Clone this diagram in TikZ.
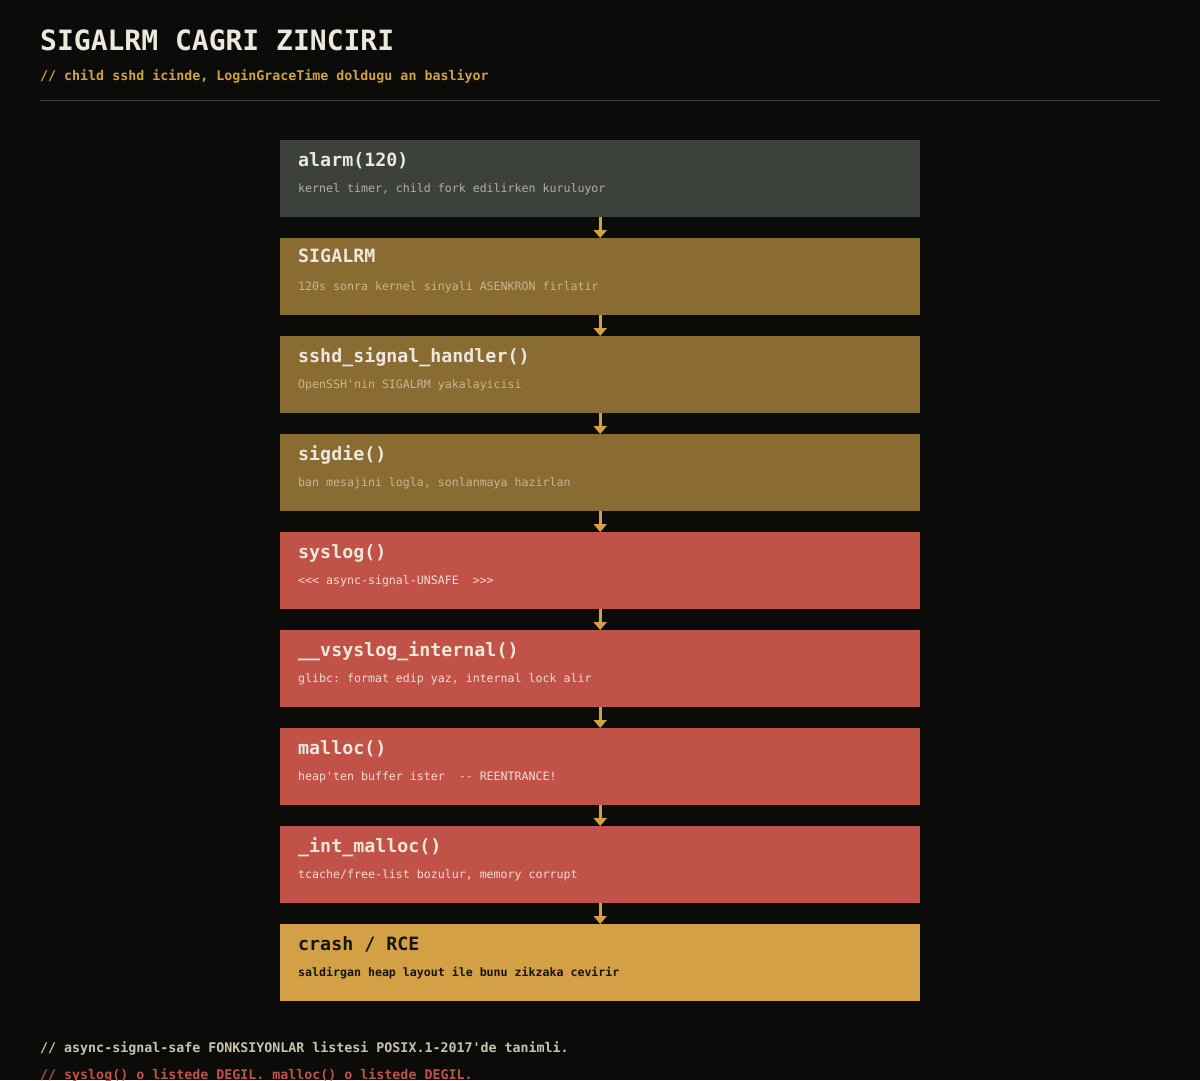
\documentclass[tikz,border=0pt]{standalone}
\usepackage{fontspec}
\setmainfont[Ligatures = TeXOff]{DejaVu Sans Mono}
\usepackage{xcolor}
\usetikzlibrary{arrows.meta}

\definecolor{bg}{HTML}{0B0C0A}
\definecolor{rulegrey}{HTML}{44453F}
\definecolor{ink}{HTML}{ECE8DC}
\definecolor{amber}{HTML}{D4A045}
\definecolor{slate}{HTML}{3D413C}
\definecolor{bronze}{HTML}{8A6C33}
\definecolor{brick}{HTML}{C05248}
\definecolor{slatesub}{HTML}{B3AE9F}
\definecolor{bronzesub}{HTML}{C9B48E}
\definecolor{bricksub}{HTML}{F3DCD4}
\definecolor{darkink}{HTML}{15140E}
\definecolor{notegrey}{HTML}{C9C2AE}

\tikzset{
  fnbox/.style = {rectangle, minimum width = 640pt, minimum height = 77pt,
                  inner sep = 0pt, anchor = north west},
  fntitle/.style = {anchor = base west, inner sep = 0pt, text = ink,
                    font = \fontsize{18.3}{20}\selectfont\bfseries},
  fnsub/.style = {anchor = base west, inner sep = 0pt,
                  font = \fontsize{11.6}{13}\selectfont},
  flow/.style = {draw = amber, line width = 2.6pt,
                 -{Triangle[width = 13pt, length = 8pt]}},
}

\begin{document}
\frenchspacing
\begin{tikzpicture}[x = 1pt, y = -1pt]
  \useasboundingbox [fill = bg] (0,0) rectangle (1200,1080);

  % heading
  \begin{scope}
    \node [anchor = base west, inner sep = 0pt, text = ink,
           font = \fontsize{28}{30}\selectfont\bfseries]
      (heading) at (40,50) {SIGALRM CAGRI ZINCIRI};
    \node [anchor = base west, inner sep = 0pt, text = amber,
           font = \fontsize{13.3}{15}\selectfont\bfseries]
      (tagline) at (40,80) {// child sshd icinde, LoginGraceTime doldugu an basliyor};
    \draw [rulegrey, line width = 1pt] (40,100.5) -- (1160,100.5);
  \end{scope}

  % call chain
  \node [fnbox, fill = slate] (alarm) at (280,140) {};
  \node [fntitle] at ([xshift = 18pt, yshift = -26pt] alarm.north west) {alarm(120)};
  \node [fnsub, text = slatesub] at ([xshift = 18pt, yshift = -52pt] alarm.north west)
    {kernel timer, child fork edilirken kuruluyor};

  \node [fnbox, fill = bronze] (sigalrm) at (280,238) {};
  \node [fntitle] at ([xshift = 18pt, yshift = -24pt] sigalrm.north west) {SIGALRM};
  \node [fnsub, text = bronzesub] at ([xshift = 18pt, yshift = -52pt] sigalrm.north west)
    {120s sonra kernel sinyali ASENKRON firlatir};

  \node [fnbox, fill = bronze] (handler) at (280,336) {};
  \node [fntitle] at ([xshift = 18pt, yshift = -26pt] handler.north west) {sshd\_signal\_handler()};
  \node [fnsub, text = bronzesub] at ([xshift = 18pt, yshift = -52pt] handler.north west)
    {OpenSSH'nin SIGALRM yakalayicisi};

  \node [fnbox, fill = bronze] (sigdie) at (280,434) {};
  \node [fntitle] at ([xshift = 18pt, yshift = -26pt] sigdie.north west) {sigdie()};
  \node [fnsub, text = bronzesub] at ([xshift = 18pt, yshift = -52pt] sigdie.north west)
    {ban mesajini logla, sonlanmaya hazirlan};

  \node [fnbox, fill = brick] (syslog) at (280,532) {};
  \node [fntitle] at ([xshift = 18pt, yshift = -26pt] syslog.north west) {syslog()};
  \node [fnsub, text = bricksub] at ([xshift = 18pt, yshift = -52pt] syslog.north west)
    {<<< async-signal-UNSAFE\ \ >>>};

  \node [fnbox, fill = brick] (vsyslog) at (280,630) {};
  \node [fntitle] at ([xshift = 18pt, yshift = -26pt] vsyslog.north west) {\_\_vsyslog\_internal()};
  \node [fnsub, text = bricksub] at ([xshift = 18pt, yshift = -52pt] vsyslog.north west)
    {glibc: format edip yaz, internal lock alir};

  \node [fnbox, fill = brick] (malloc) at (280,728) {};
  \node [fntitle] at ([xshift = 18pt, yshift = -26pt] malloc.north west) {malloc()};
  \node [fnsub, text = bricksub] at ([xshift = 18pt, yshift = -52pt] malloc.north west)
    {heap'ten buffer ister\ \ -- REENTRANCE!};

  \node [fnbox, fill = brick] (intmalloc) at (280,826) {};
  \node [fntitle] at ([xshift = 18pt, yshift = -26pt] intmalloc.north west) {\_int\_malloc()};
  \node [fnsub, text = bricksub] at ([xshift = 18pt, yshift = -52pt] intmalloc.north west)
    {tcache/free-list bozulur, memory corrupt};

  \node [fnbox, fill = amber] (crash) at (280,924) {};
  \node [fntitle, text = darkink] at ([xshift = 18pt, yshift = -26pt] crash.north west) {crash / RCE};
  \node [fnsub, text = darkink, font = \fontsize{11.6}{13}\selectfont\bfseries]
    at ([xshift = 18pt, yshift = -52pt] crash.north west)
    {saldirgan heap layout ile bunu zikzaka cevirir};

  \foreach \from/\to in {alarm/sigalrm, sigalrm/handler, handler/sigdie, sigdie/syslog,
                         syslog/vsyslog, vsyslog/malloc, malloc/intmalloc, intmalloc/crash}
    \draw [flow] (\from.south) -- (\to.north);

  % footnotes
  \begin{scope}[font = \fontsize{13.3}{15}\selectfont\bfseries]
    \node [anchor = base west, inner sep = 0pt, text = notegrey] (note1) at (40,1052)
      {// async-signal-safe FONKSIYONLAR listesi POSIX.1-2017'de tanimli.};
    \node [anchor = base west, inner sep = 0pt, text = brick] (note2) at (40,1079)
      {// syslog() o listede DEGIL. malloc() o listede DEGIL.};
  \end{scope}
\end{tikzpicture}
\end{document}
